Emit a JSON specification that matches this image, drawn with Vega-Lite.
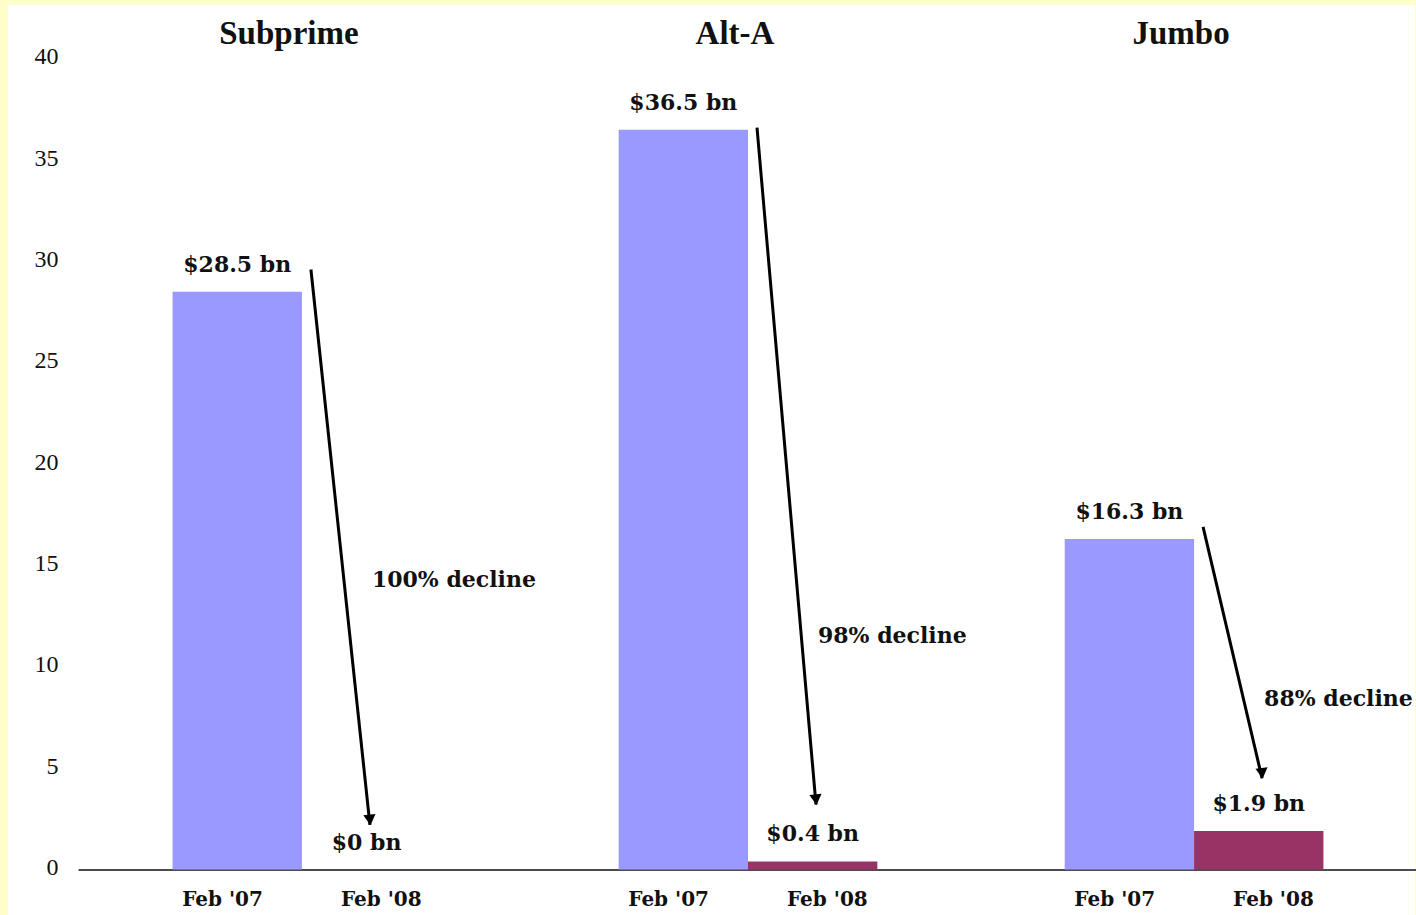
{
  "$schema": "https://vega.github.io/schema/vega-lite/v6.json",
  "width": 1407,
  "height": 910,
  "autosize": {"type": "none"},
  "padding": {"left": 8, "top": 5, "right": 1, "bottom": 0},
  "background": "#FFFFCC",
  "config": {
    "view": {"fill": "white", "stroke": null},
    "axis": {"grid": false}
  },
  "datasets": {
    "bars": [
      {"group": "Subprime", "period": "Feb '07", "value": 28.5, "label": "$28.5 bn"},
      {"group": "Subprime", "period": "Feb '08", "value": 0, "label": "$0 bn"},
      {"group": "Alt-A", "period": "Feb '07", "value": 36.5, "label": "$36.5 bn"},
      {"group": "Alt-A", "period": "Feb '08", "value": 0.4, "label": "$0.4 bn"},
      {"group": "Jumbo", "period": "Feb '07", "value": 16.3, "label": "$16.3 bn"},
      {"group": "Jumbo", "period": "Feb '08", "value": 1.9, "label": "$1.9 bn"}
    ],
    "arrows": [
      {"group": "Subprime", "from": 29.6, "to": 2.2, "decline": "100% decline", "decline_at": 14.3},
      {"group": "Alt-A", "from": 36.6, "to": 3.2, "decline": "98% decline", "decline_at": 11.5},
      {"group": "Jumbo", "from": 16.9, "to": 4.5, "decline": "88% decline", "decline_at": 8.4}
    ]
  },
  "resolve": {"scale": {"xOffset": "independent"}, "axis": {"x": "independent"}},
  "layer": [
    {
      "data": {"name": "bars"},
      "mark": {"type": "bar"},
      "encoding": {
        "x": {
          "field": "group", "type": "nominal", "sort": ["Subprime", "Alt-A", "Jumbo"],
          "scale": {"domain": ["Subprime", "Alt-A", "Jumbo"], "range": [70, 1410], "paddingInner": 0.42, "paddingOuter": 0.212},
          "axis": {"orient": "top", "title": null, "domain": false, "ticks": false, "tickSize": 0, "labelPadding": 0, "offset": -38, "labelAngle": 0, "labelBaseline": "alphabetic", "labelOffset": -13, "labelFont": "Liberation Serif", "labelFontWeight": "bold", "labelFontSize": 33, "labelColor": "#111111"}
        },
        "xOffset": {"field": "period", "type": "nominal", "sort": ["Feb '07", "Feb '08"], "scale": {"paddingInner": 0, "paddingOuter": 0}},
        "y": {
          "field": "value", "type": "quantitative",
          "scale": {"domain": [0, 40], "range": [864.5, 53.7], "nice": false, "zero": true},
          "axis": {"title": null, "domain": false, "ticks": false, "tickSize": 0, "labelPadding": 0, "offset": -50, "values": [0, 5, 10, 15, 20, 25, 30, 35, 40], "labelFont": "Liberation Serif", "labelFontSize": 24, "labelColor": "#111111", "labelOffset": -2}
        },
        "color": {
          "field": "period", "type": "nominal",
          "scale": {"domain": ["Feb '07", "Feb '08"], "range": ["#9999FF", "#993366"]},
          "legend": null
        }
      }
    },
    {
      "data": {"name": "bars"},
      "mark": {"type": "text", "dy": -27, "font": "DejaVu Serif", "fontWeight": "bold", "fontSize": 22, "color": "#111111", "baseline": "middle", "align": "center"},
      "encoding": {
        "x": {"field": "group", "type": "nominal", "axis": null},
        "xOffset": {"field": "period", "type": "nominal", "sort": ["Feb '07", "Feb '08"], "scale": {"type": "point", "padding": 0.5}},
        "y": {"field": "value", "type": "quantitative"},
        "text": {"field": "label"}
      }
    },
    {
      "data": {"name": "bars"},
      "mark": {"type": "text", "dy": 30, "font": "DejaVu Serif", "fontWeight": "bold", "fontSize": 20, "color": "#111111", "baseline": "middle", "align": "center"},
      "encoding": {
        "x": {
          "field": "group", "type": "nominal",
          "axis": {"orient": "bottom", "title": null, "labels": false, "ticks": false, "tickSize": 0, "domain": true, "domainColor": "#111111", "domainWidth": 1.5, "offset": -45.5}
        },
        "xOffset": {"field": "period", "type": "nominal", "sort": ["Feb '07", "Feb '08"], "scale": {"type": "point", "padding": 0.315}},
        "y": {"datum": 0, "type": "quantitative"},
        "text": {"field": "period"}
      }
    },
    {
      "data": {"name": "arrows"},
      "mark": {"type": "rule", "color": "#000000", "strokeWidth": 3, "xOffset": 9, "x2Offset": 68},
      "encoding": {
        "x": {"field": "group", "type": "nominal", "axis": null},
        "x2": {"field": "group"},
        "y": {"field": "from", "type": "quantitative"},
        "y2": {"field": "to"}
      }
    },
    {
      "data": {"name": "arrows"},
      "mark": {"type": "point", "shape": "triangle-down", "filled": true, "color": "#000000", "opacity": 1, "size": 150, "xOffset": 68, "yOffset": -5, "angle": -6},
      "encoding": {
        "x": {"field": "group", "type": "nominal", "axis": null},
        "y": {"field": "to", "type": "quantitative"}
      }
    },
    {
      "data": {"name": "arrows"},
      "mark": {"type": "text", "dx": 70, "font": "DejaVu Serif", "fontWeight": "bold", "fontSize": 22, "color": "#111111", "baseline": "middle", "align": "left"},
      "encoding": {
        "x": {"field": "group", "type": "nominal", "axis": null},
        "y": {"field": "decline_at", "type": "quantitative"},
        "text": {"field": "decline"}
      }
    }
  ]
}
